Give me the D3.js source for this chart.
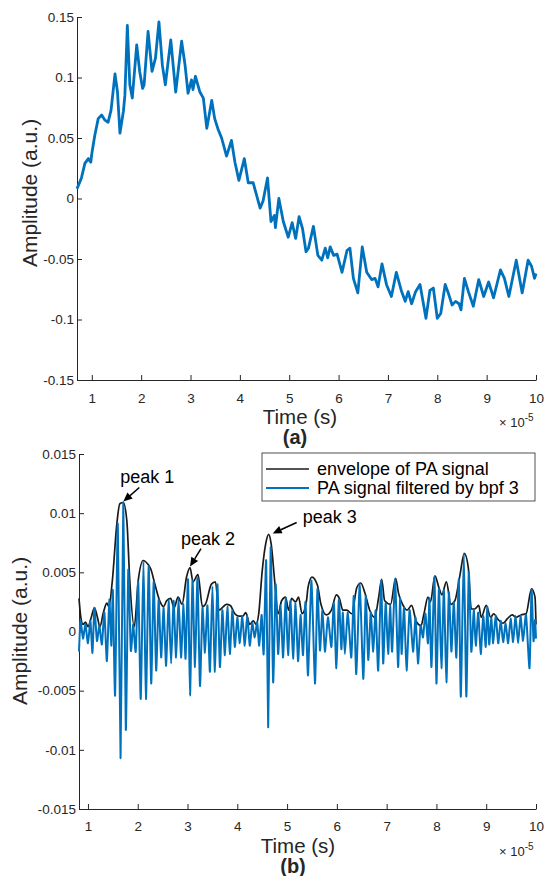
<!DOCTYPE html>
<html>
<head>
<meta charset="utf-8">
<script src="https://cdnjs.cloudflare.com/ajax/libs/d3/7.8.5/d3.min.js"></script>
<style>
body { margin: 0; background: #fff; }
svg text { font-family: "Liberation Sans", Arial, Helvetica, sans-serif; }
</style>
</head>
<body>
<svg id="chart" width="547" height="876"></svg>
<script>
/*globals d3 */

// (a) raw PA signal, time in units of 1e-5 s
var rawSignal = [
    [0.70, 0.008], [0.72, 0.010], [0.79, 0.017], [0.86, 0.029], [0.93, 0.033], [0.98, 0.030],
    [1.00, 0.037], [1.06, 0.052], [1.13, 0.066], [1.20, 0.069], [1.26, 0.065], [1.33, 0.063],
    [1.39, 0.073], [1.47, 0.103], [1.52, 0.088], [1.57, 0.054], [1.64, 0.072], [1.67, 0.085],
    [1.72, 0.143], [1.77, 0.094], [1.82, 0.083], [1.91, 0.127], [1.97, 0.105], [2.03, 0.091],
    [2.06, 0.094], [2.14, 0.138], [2.22, 0.105], [2.29, 0.116], [2.36, 0.146], [2.43, 0.110],
    [2.49, 0.094], [2.60, 0.131], [2.70, 0.088], [2.82, 0.130], [2.89, 0.110], [2.95, 0.087],
    [3.02, 0.098], [3.05, 0.090], [3.10, 0.101], [3.19, 0.088], [3.26, 0.083], [3.33, 0.058],
    [3.43, 0.081], [3.49, 0.066], [3.56, 0.057], [3.63, 0.050], [3.73, 0.035], [3.83, 0.048],
    [3.90, 0.030], [3.98, 0.015], [4.09, 0.033], [4.17, 0.013], [4.27, 0.013], [4.41, -0.008],
    [4.47, -0.002], [4.56, 0.017], [4.63, -0.019], [4.70, -0.014], [4.72, -0.024], [4.79, 0.000],
    [4.88, -0.019], [4.98, -0.032], [5.06, -0.020], [5.13, -0.033], [5.20, -0.015], [5.27, -0.025],
    [5.34, -0.044], [5.39, -0.041], [5.49, -0.023], [5.58, -0.047], [5.66, -0.051], [5.73, -0.041],
    [5.78, -0.049], [5.83, -0.040], [5.90, -0.047], [5.97, -0.046], [6.07, -0.061], [6.17, -0.043],
    [6.23, -0.041], [6.30, -0.066], [6.39, -0.078], [6.48, -0.040], [6.57, -0.061], [6.67, -0.067],
    [6.74, -0.066], [6.80, -0.073], [6.88, -0.054], [6.97, -0.071], [7.07, -0.081], [7.17, -0.061],
    [7.27, -0.076], [7.35, -0.085], [7.41, -0.077], [7.48, -0.087], [7.56, -0.077], [7.65, -0.071],
    [7.77, -0.099], [7.85, -0.076], [7.92, -0.074], [8.00, -0.099], [8.07, -0.095], [8.16, -0.071],
    [8.23, -0.079], [8.30, -0.088], [8.37, -0.085], [8.44, -0.087], [8.48, -0.092], [8.55, -0.066],
    [8.63, -0.077], [8.73, -0.089], [8.84, -0.067], [8.94, -0.081], [9.04, -0.069], [9.14, -0.082],
    [9.28, -0.059], [9.36, -0.066], [9.45, -0.081], [9.60, -0.051], [9.72, -0.078], [9.84, -0.051],
    [9.91, -0.056], [9.97, -0.066], [10.00, -0.062]
];

// (b) envelope of the PA signal
var envelope = [
    [0.82, 0.0028], [0.86, 0.0011], [0.90, 0.0006], [0.95, 0.0008], [1.00, 0.0004], [1.06, 0.0011],
    [1.13, 0.0020], [1.19, 0.0012], [1.24, 0.0004], [1.31, 0.0016], [1.38, 0.0024], [1.42, 0.0021],
    [1.49, 0.0043], [1.58, 0.0091], [1.64, 0.0108], [1.71, 0.0109], [1.78, 0.0094], [1.84, 0.0043],
    [1.93, 0.0004], [2.01, 0.0043], [2.11, 0.0060], [2.20, 0.0057], [2.26, 0.0053], [2.35, 0.0039],
    [2.45, 0.0025], [2.52, 0.0021], [2.58, 0.0026], [2.66, 0.0028], [2.73, 0.0020], [2.81, 0.0029],
    [2.89, 0.0023], [2.98, 0.0046], [3.05, 0.0054], [3.11, 0.0042], [3.21, 0.0048], [3.30, 0.0021],
    [3.36, 0.0023], [3.48, 0.0040], [3.56, 0.0042], [3.63, 0.0018], [3.72, 0.0021], [3.78, 0.0023],
    [3.86, 0.0022], [3.95, 0.0015], [4.03, 0.0013], [4.11, 0.0013], [4.17, 0.0016], [4.25, 0.0006],
    [4.32, 0.0009], [4.38, 0.0006], [4.43, 0.0015], [4.50, 0.0051], [4.57, 0.0074], [4.63, 0.0082],
    [4.68, 0.0074], [4.75, 0.0043], [4.82, 0.0015], [4.89, 0.0026], [4.97, 0.0029], [5.03, 0.0018],
    [5.09, 0.0028], [5.17, 0.0025], [5.23, 0.0029], [5.30, 0.0015], [5.39, 0.0026], [5.42, 0.0037],
    [5.50, 0.0046], [5.61, 0.0039], [5.68, 0.0023], [5.79, 0.0014], [5.89, 0.0018], [5.99, 0.0031],
    [6.05, 0.0028], [6.12, 0.0018], [6.20, 0.0018], [6.30, 0.0015], [6.40, 0.0037], [6.48, 0.0041],
    [6.56, 0.0033], [6.66, 0.0018], [6.76, 0.0012], [6.84, 0.0029], [6.90, 0.0044], [6.96, 0.0026],
    [7.08, 0.0023], [7.18, 0.0045], [7.24, 0.0032], [7.33, 0.0022], [7.41, 0.0018], [7.50, 0.0022],
    [7.60, 0.0008], [7.69, 0.0005], [7.75, 0.0015], [7.83, 0.0029], [7.88, 0.0025], [7.97, 0.0047],
    [8.05, 0.0037], [8.11, 0.0031], [8.20, 0.0042], [8.29, 0.0023], [8.37, 0.0026], [8.47, 0.0047],
    [8.56, 0.0066], [8.64, 0.0054], [8.70, 0.0019], [8.77, 0.0019], [8.85, 0.0022], [8.90, 0.0012],
    [9.00, 0.0022], [9.09, 0.0012], [9.15, 0.0015], [9.24, 0.0010], [9.34, 0.0007], [9.43, 0.0011],
    [9.52, 0.0014], [9.60, 0.0012], [9.70, 0.0014], [9.80, 0.0015], [9.91, 0.0036], [9.98, 0.0029],
    [10.00, 0.0006]
];

// (b) PA signal filtered by bpf 3 (peaks and troughs)
var filtered = [
    [0.82, -0.0017], [0.85, 0.0009], [0.90, -0.0006], [0.95, 0.0006], [1.00, -0.0010], [1.05, 0.0009],
    [1.09, -0.0018], [1.13, 0.0020], [1.18, -0.0008], [1.23, 0.0005], [1.28, -0.0011], [1.33, 0.0016],
    [1.38, -0.0025], [1.43, 0.0027], [1.47, -0.0012], [1.50, 0.0035], [1.545, -0.0054], [1.60, 0.0091],
    [1.655, -0.0107], [1.71, 0.0109], [1.76, -0.0083], [1.81, 0.0052], [1.86, -0.0016], [1.91, 0.0006],
    [1.96, -0.0017], [2.01, 0.0042], [2.06, -0.0057], [2.115, 0.0059], [2.165, -0.0057], [2.22, 0.0055],
    [2.27, -0.0044], [2.32, 0.0042], [2.37, -0.0033], [2.42, 0.0027], [2.47, -0.0022], [2.52, 0.0020],
    [2.57, -0.0029], [2.62, 0.0026], [2.67, -0.0027], [2.72, 0.0026], [2.77, -0.0022], [2.82, 0.0028],
    [2.87, -0.0022], [2.92, 0.0023], [2.96, -0.0023], [3.01, 0.0044], [3.05, -0.0054], [3.10, 0.0043],
    [3.15, -0.0030], [3.20, 0.0045], [3.25, -0.0046], [3.30, 0.0020], [3.35, -0.0018], [3.40, 0.0022],
    [3.45, -0.0034], [3.50, 0.0038], [3.55, -0.0034], [3.60, 0.0040], [3.65, -0.0030], [3.70, 0.0018],
    [3.75, -0.0020], [3.80, 0.0021], [3.85, -0.0019], [3.90, 0.0018], [3.95, -0.0013], [4.00, 0.0012],
    [4.05, -0.0010], [4.10, 0.0013], [4.15, -0.0012], [4.20, 0.0014], [4.25, -0.0012], [4.30, 0.0007],
    [4.35, -0.0005], [4.40, 0.0008], [4.44, -0.0012], [4.49, 0.0014], [4.53, -0.0019], [4.58, 0.0060],
    [4.62, -0.0081], [4.67, 0.0071], [4.72, -0.0043], [4.77, 0.0040], [4.82, -0.0019], [4.87, 0.0022],
    [4.92, -0.0022], [4.97, 0.0028], [5.02, -0.0020], [5.07, 0.0026], [5.12, -0.0023], [5.17, 0.0024],
    [5.22, -0.0025], [5.27, 0.0014], [5.32, -0.0020], [5.37, 0.0025], [5.42, -0.0037], [5.49, 0.0043],
    [5.56, -0.0044], [5.61, 0.0036], [5.66, -0.0016], [5.71, 0.0018], [5.76, -0.0017], [5.82, 0.0012],
    [5.89, -0.0013], [5.94, 0.0024], [5.99, -0.0031], [6.04, 0.0027], [6.09, -0.0015], [6.12, 0.0016],
    [6.16, -0.0019], [6.22, 0.0016], [6.29, -0.0022], [6.34, 0.0030], [6.39, -0.0036], [6.46, 0.0040],
    [6.53, -0.0040], [6.58, 0.0030], [6.63, -0.0024], [6.68, 0.0016], [6.73, -0.0017], [6.78, 0.0018],
    [6.83, -0.0033], [6.89, 0.0043], [6.93, -0.0027], [6.98, 0.0024], [7.03, -0.0019], [7.07, 0.0022],
    [7.11, -0.0017], [7.17, 0.0044], [7.23, -0.0030], [7.27, 0.0028], [7.30, -0.0019], [7.35, 0.0020],
    [7.40, -0.0033], [7.46, 0.0018], [7.53, -0.0017], [7.58, 0.0012], [7.63, -0.0027], [7.68, 0.0005],
    [7.73, -0.0005], [7.78, 0.0015], [7.83, -0.0010], [7.86, 0.0028], [7.90, -0.0030], [7.96, 0.0046],
    [8.00, -0.0044], [8.05, 0.0036], [8.10, -0.0031], [8.15, 0.0035], [8.20, -0.0043], [8.25, 0.0033],
    [8.30, -0.0017], [8.35, 0.0025], [8.40, -0.0022], [8.45, 0.0044], [8.49, -0.0055], [8.55, 0.0066],
    [8.60, -0.0055], [8.65, 0.0050], [8.70, -0.0017], [8.75, 0.0018], [8.79, -0.0012], [8.84, 0.0016],
    [8.89, -0.0019], [8.94, 0.0013], [8.99, -0.0013], [9.02, 0.0021], [9.06, -0.0011], [9.10, 0.0012],
    [9.14, -0.0010], [9.19, 0.0014], [9.24, -0.0010], [9.29, 0.0009], [9.34, -0.0009], [9.39, 0.0007],
    [9.44, -0.0010], [9.49, 0.0011], [9.54, -0.0009], [9.59, 0.0013], [9.64, -0.0010], [9.69, 0.0013],
    [9.74, -0.0008], [9.80, 0.0014], [9.87, -0.0031], [9.91, 0.0035], [9.95, -0.0008], [9.98, 0.0010],
    [10.00, -0.0006]
];

var xTicks = [1, 2, 3, 4, 5, 6, 7, 8, 9, 10];
var yTicksA = [-0.15, -0.1, -0.05, 0, 0.05, 0.1, 0.15];
var yTicksB = [-0.015, -0.01, -0.005, 0, 0.005, 0.01, 0.015];
var legendLabels = ["envelope of PA signal", "PA signal filtered by bpf 3"];
var peaks = [
    {label: "peak 1", t: 1.71, v: 0.0109},
    {label: "peak 2", t: 3.05, v: 0.0054},
    {label: "peak 3", t: 4.63, v: 0.0082}
];

var svg = d3.select("#chart"),
    axisColor = "#262626",
    blue = "#0072BD";

function drawPanel(cfg) {
    var g = svg.append("g"),
        x = d3.scaleLinear().domain(cfg.xDomain).range([cfg.left, cfg.right]),
        y = d3.scaleLinear().domain(cfg.yDomain).range([cfg.bottom, cfg.top]),
        xAxis,
        yAxis,
        mult;

    xAxis = g.append("g")
        .attr("transform", "translate(0," + cfg.bottom + ")")
        .call(d3.axisBottom(x).tickValues(xTicks).tickSize(-5).tickPadding(cfg.xPad).tickSizeOuter(0)
            .tickFormat(function (d) { return String(d); }));

    yAxis = g.append("g")
        .attr("transform", "translate(" + cfg.left + ",0)")
        .call(d3.axisLeft(y).tickValues(cfg.yTicks).tickSize(-5).tickPadding(3).tickSizeOuter(0)
            .tickFormat(function (d) { return String(d); }));

    [xAxis, yAxis].forEach(function (a) {
        a.select(".domain").attr("stroke", axisColor).attr("stroke-width", 1);
        a.selectAll(".tick line").attr("stroke", axisColor).attr("stroke-width", 1);
        a.selectAll(".tick text")
            .attr("fill", axisColor)
            .style("font-size", "13.5px")
            .style("font-family", "'Liberation Sans', Arial, sans-serif");
    });

    // Axis labels
    g.append("text")
        .attr("x", cfg.labelCx)
        .attr("y", cfg.bottom + 44)
        .attr("text-anchor", "middle")
        .attr("fill", axisColor)
        .style("font-size", "20.5px")
        .text("Time (s)");

    mult = g.append("text")
        .attr("x", cfg.right - 37)
        .attr("y", cfg.bottom + 47)
        .attr("fill", axisColor)
        .style("font-size", "13px");
    mult.append("tspan").text("\u00d7 10");
    mult.append("tspan").attr("dy", -6).style("font-size", "10px").text("-5");

    g.append("text")
        .attr("x", cfg.labelCx - 5)
        .attr("y", cfg.bottom + 64)
        .attr("text-anchor", "middle")
        .attr("fill", axisColor)
        .style("font-size", "20px")
        .style("font-weight", "bold")
        .text(cfg.letter);

    g.append("text")
        .attr("transform", "translate(" + cfg.yLabelX + "," + cfg.yLabelCy + ") rotate(-90)")
        .attr("text-anchor", "middle")
        .attr("fill", axisColor)
        .style("font-size", "21px")
        .text("Amplitude (a.u.)");

    return {g: g, x: x, y: y};
}

// Panel (a)
var pa = drawPanel({
    left: 77, right: 536, top: 17, bottom: 380,
    xDomain: [0.70, 10], yDomain: [-0.15, 0.15],
    yTicks: yTicksA, yLabelX: 37, yLabelCy: 193, xPad: 13, labelCx: 300, letter: "(a)"
});

pa.g.append("path")
    .datum(rawSignal)
    .attr("fill", "none")
    .attr("stroke", blue)
    .attr("stroke-width", 2.8)
    .attr("stroke-linejoin", "round")
    .attr("d", d3.line().x(function (d) { return pa.x(d[0]); }).y(function (d) { return pa.y(d[1]); }));

// Panel (b)
var pb = drawPanel({
    left: 79, right: 536, top: 454, bottom: 809,
    xDomain: [0.82, 10], yDomain: [-0.015, 0.015],
    yTicks: yTicksB, yLabelX: 27, yLabelCy: 631, xPad: 12, labelCx: 298, letter: "(b)"
});

var envLine = d3.line()
    .curve(d3.curveMonotoneX)
    .x(function (d) { return pb.x(d[0]); })
    .y(function (d) { return pb.y(d[1]); });

var filtLine = d3.line()
    .curve(d3.curveCardinal.tension(0.4))
    .x(function (d) { return pb.x(d[0]); })
    .y(function (d) { return pb.y(d[1]); });

pb.g.append("path")
    .datum(envelope)
    .attr("fill", "none")
    .attr("stroke", "#1a1a1a")
    .attr("stroke-width", 1.7)
    .attr("d", envLine);

pb.g.append("path")
    .datum(filtered)
    .attr("fill", "none")
    .attr("stroke", blue)
    .attr("stroke-width", 2)
    .attr("d", filtLine);

// Peak annotations: arrow tail and label are offset from the peak in pixels
var headOffsets = [[0, -1], [0, -1], [4, -1]],
    tailOffsets = [[16, -15], [11, -19], [28, -12]],
    textOffsets = [[24, -20], [18, -23], [61, -11]];

peaks.forEach(function (p, i) {
    var hx = pb.x(p.t) + headOffsets[i][0],
        hy = pb.y(p.v) + headOffsets[i][1],
        tx = pb.x(p.t) + tailOffsets[i][0],
        ty = pb.y(p.v) + tailOffsets[i][1],
        ang = Math.atan2(hy - ty, hx - tx),
        len = 9,
        wid = 4,
        bx = hx - len * Math.cos(ang),
        by = hy - len * Math.sin(ang);

    pb.g.append("line")
        .attr("x1", tx).attr("y1", ty).attr("x2", bx).attr("y2", by)
        .attr("stroke", "#000").attr("stroke-width", 1.5);
    pb.g.append("polygon")
        .attr("points", [
            [hx, hy],
            [bx + wid * Math.sin(ang), by - wid * Math.cos(ang)],
            [bx - wid * Math.sin(ang), by + wid * Math.cos(ang)]
        ].map(function (q) { return q.join(","); }).join(" "))
        .attr("fill", "#000");
    pb.g.append("text")
        .attr("x", pb.x(p.t) + textOffsets[i][0])
        .attr("y", pb.y(p.v) + textOffsets[i][1])
        .attr("text-anchor", "middle")
        .attr("fill", "#000")
        .style("font-size", "18px")
        .text(p.label);
});

// Legend
var legend = svg.append("g").attr("transform", "translate(262,453)");
legend.append("rect")
    .attr("width", 273).attr("height", 48)
    .attr("fill", "#fff")
    .attr("stroke", axisColor)
    .attr("stroke-width", 0.8);
legendLabels.forEach(function (lab, i) {
    var yy = 16 + i * 19;
    legend.append("line")
        .attr("x1", 4).attr("x2", 47).attr("y1", yy).attr("y2", yy)
        .attr("stroke", i === 0 ? "#1a1a1a" : blue)
        .attr("stroke-width", i === 0 ? 1.7 : 2);
    legend.append("text")
        .attr("x", 55).attr("y", yy + 6)
        .attr("fill", "#000")
        .style("font-size", "18px")
        .text(lab);
});
</script>
</body>
</html>
